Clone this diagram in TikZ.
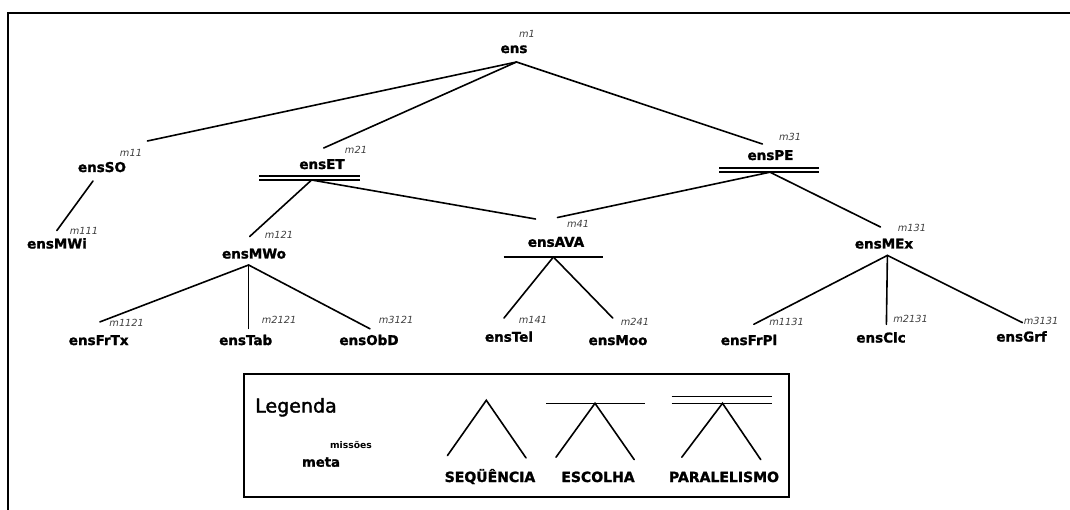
\documentclass[tikz,border=0pt]{standalone}
\usepackage{fontspec}
\setmainfont{DejaVu Sans}
\newfontfamily\heavyfont[FakeBold=1.6]{DejaVu Sans Bold}
\newfontfamily\medfont[FakeBold=1.8]{DejaVu Sans}
\begin{document}
\begin{tikzpicture}[x=1pt,y=-1pt,
  lbl/.style={font=\fontsize{13.5}{14}\selectfont\heavyfont, inner sep=0pt, anchor=base},
  sup/.style={font=\fontsize{9.8}{10}\selectfont\itshape, text=black!75, inner sep=0pt},
  edge/.style={line width=1.6pt, line cap=round},
  bar/.style={line width=1.6pt},
  frame/.style={line width=2.2pt},
  legbox/.style={line width=1.8pt},
  legtxt/.style={font=\fontsize{14}{15}\selectfont\heavyfont, inner sep=0pt, anchor=base}
]
\useasboundingbox (0,0) rectangle (1070,510);
\draw[frame] (8,512) -- (8,13) -- (1072,13);

% ---- level 0
\node[lbl] (ens) at (514,53) {ens};
\node[sup] (m1) at (527,33.5) {m1};
\coordinate (ens-j) at (516.5,62);

% ---- level 1
\node[lbl] (ensSO) at (102,172) {ensSO};
\node[sup] (m11) at (131,153) {m11};
\coordinate (ensSO-i) at (147.4,141);
\coordinate (ensSO-j) at (93,181);

\node[lbl] (ensET) at (322,169) {ensET};
\node[sup] (m21) at (356,150) {m21};
\coordinate (ensET-i) at (323.7,148);
\coordinate (ensET-j) at (311.6,180);
\draw[bar] (259,176.2) -- (360,176.2);
\draw[bar] (259,180.2) -- (360,180.2);

\node[lbl] (ensPE) at (770.5,160) {ensPE};
\node[sup] (m31) at (790,137) {m31};
\coordinate (ensPE-i) at (762.4,144);
\coordinate (ensPE-j) at (770,172.2);
\draw[bar] (719.4,167.9) -- (819.3,167.9);
\draw[bar] (719.4,172.2) -- (819.3,172.2);

% ---- level 2
\node[lbl] (ensMWi) at (57,248.5) {ensMWi};
\node[sup] (m111) at (84,230.6) {m111};
\coordinate (ensMWi-i) at (56.8,230.6);

\node[lbl] (ensMWo) at (254,258.5) {ensMWo};
\node[sup] (m121) at (279,234.8) {m121};
\coordinate (ensMWo-i) at (249.7,236.5);
\coordinate (ensMWo-j) at (248.6,265);

\node[lbl] (ensAVA) at (556,246.8) {ensAVA};
\node[sup] (m41) at (578,224.4) {m41};
\coordinate (ensAVA-i1) at (535.5,219);
\coordinate (ensAVA-i2) at (557.5,217.5);
\coordinate (ensAVA-j) at (553.4,257);
\draw[bar] (503.5,257) -- (603,257);

\node[lbl] (ensMEx) at (884,248.5) {ensMEx};
\node[sup] (m131) at (912,228) {m131};
\coordinate (ensMEx-i) at (880.5,227);
\coordinate (ensMEx-j) at (887.4,255.4);

% ---- level 3
\node[lbl] (ensFrTx) at (98.7,345) {ensFrTx};
\node[sup] (m1121) at (126.7,322.5) {m1121};
\coordinate (ensFrTx-i) at (99.9,321.9);

\node[lbl] (ensTab) at (245.7,345) {ensTab};
\node[sup] (m2121) at (279,319.5) {m2121};
\coordinate (ensTab-i) at (248.6,328.4);

\node[lbl] (ensObD) at (369,345) {ensObD};
\node[sup] (m3121) at (396,319.5) {m3121};
\coordinate (ensObD-i) at (370,328.8);

\node[lbl] (ensTel) at (509,341.7) {ensTel};
\node[sup] (m141) at (533,320) {m141};
\coordinate (ensTel-i) at (504,318);

\node[lbl] (ensMoo) at (618,345) {ensMoo};
\node[sup] (m241) at (635,322) {m241};
\coordinate (ensMoo-i) at (612.7,318);

\node[lbl] (ensFrPl) at (749,345) {ensFrPl};
\node[sup] (m1131) at (786.5,322) {m1131};
\coordinate (ensFrPl-i) at (753.8,324.3);

\node[lbl] (ensClc) at (881,342.5) {ensClc};
\node[sup] (m2131) at (910.5,319) {m2131};
\coordinate (ensClc-i) at (886.4,324.3);

\node[lbl] (ensGrf) at (1021.5,341.5) {ensGrf};
\node[sup] (m3131) at (1041,321) {m3131};
\coordinate (ensGrf-i) at (1022.4,322.6);

% ---- connectors
\draw[edge] (ens-j) -- (ensSO-i);
\draw[edge] (ens-j) -- (ensET-i);
\draw[edge] (ens-j) -- (ensPE-i);
\draw[edge] (ensSO-j) -- (ensMWi-i);
\draw[edge] (ensET-j) -- (ensMWo-i);
\draw[edge] (ensET-j) -- (ensAVA-i1);
\draw[edge] (ensPE-j) -- (ensAVA-i2);
\draw[edge] (ensPE-j) -- (ensMEx-i);
\draw[edge] (ensMWo-j) -- (ensFrTx-i);
\draw[edge] (ensMWo-j) -- (ensTab-i);
\draw[edge] (ensMWo-j) -- (ensObD-i);
\draw[edge] (ensAVA-j) -- (ensTel-i);
\draw[edge] (ensAVA-j) -- (ensMoo-i);
\draw[edge] (ensMEx-j) -- (ensFrPl-i);
\draw[edge] (ensMEx-j) -- (ensClc-i);
\draw[edge] (ensMEx-j) -- (ensGrf-i);

% ---- legend
\draw[legbox] (243.8,373.8) rectangle (789,497);
\node[font=\fontsize{19}{20}\selectfont\medfont, inner sep=0pt, anchor=base] (legenda) at (296,412.5) {Legenda};
\node[font=\fontsize{9.2}{10}\selectfont\bfseries, inner sep=0pt, anchor=base] (missoes) at (351,448) {missões};
\node[font=\fontsize{13.2}{14}\selectfont\heavyfont, inner sep=0pt, anchor=base] (meta) at (321,466.7) {meta};

\draw[edge] (447.4,455.6) -- (486.3,400.3) -- (526,457.9);

\draw[bar] (546,403.3) -- (645,403.3);
\draw[edge] (556,457.2) -- (595,403.3) -- (634.2,459.6);

\draw[bar] (671.7,396.6) -- (771.6,396.6);
\draw[bar] (671.7,403.3) -- (771.6,403.3);
\draw[edge] (681.8,457.2) -- (722.5,403.3) -- (760.7,459.6);

\node[legtxt] (seq) at (490,482) {SEQÜÊNCIA};
\node[legtxt] (esc) at (598,482) {ESCOLHA};
\node[legtxt] (par) at (724,482) {PARALELISMO};
\end{tikzpicture}
\end{document}
